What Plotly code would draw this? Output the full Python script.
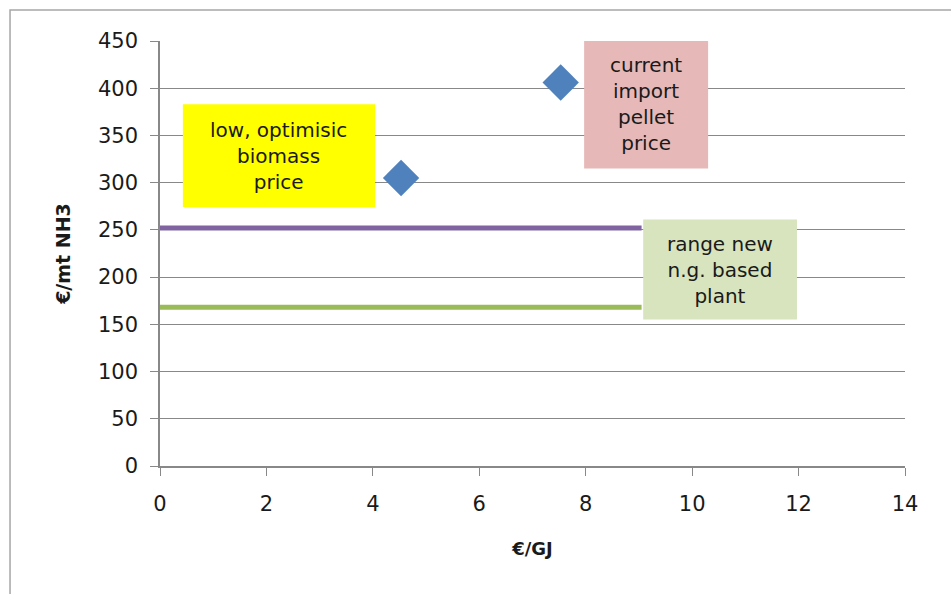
import plotly.graph_objects as go

# Scenario prices of biomass (€/GJ) and resulting NH3 cost (€/mt)
biomass_price = [4.53, 7.53]
nh3_cost = [305, 406]

# Range of ammonia cost for a new natural-gas based plant
ng_range_x = [0, 9.05]
ng_high = [252, 252]
ng_low = [168, 168]

x_ticks = [0, 2, 4, 6, 8, 10, 12, 14]
y_ticks = [0, 50, 100, 150, 200, 250, 300, 350, 400, 450]

FONT = "'DejaVu Sans', sans-serif"

fig = go.Figure()

fig.add_trace(go.Scatter(
    x=ng_range_x, y=ng_high, mode="lines",
    line=dict(color="#8064A2", width=5), showlegend=False))
fig.add_trace(go.Scatter(
    x=ng_range_x, y=ng_low, mode="lines",
    line=dict(color="#9BBB59", width=5), showlegend=False))
fig.add_trace(go.Scatter(
    x=biomass_price, y=nh3_cost, mode="markers",
    marker=dict(symbol="diamond", size=28, color="#4F81BD"),
    showlegend=False))

# Labelled boxes: (x0, x1, y0, y1, fill, text)
boxes = [
    (0.43, 4.04, 274, 383, "#FFFF00", "low, optimisic<br>biomass<br>price"),
    (7.97, 10.30, 315, 451, "#E6B9B8", "current<br>import<br>pellet<br>price"),
    (9.08, 11.97, 155, 261, "#D7E4BD", "range new<br>n.g. based<br>plant"),
]
for x0, x1, y0, y1, fill, text in boxes:
    fig.add_shape(type="rect", xref="x", yref="y", x0=x0, x1=x1, y0=y0, y1=y1,
                  fillcolor=fill, line=dict(width=0), layer="above")
    fig.add_annotation(x=(x0 + x1) / 2, y=(y0 + y1) / 2, xref="x", yref="y",
                       text=text, showarrow=False, align="center",
                       font=dict(family=FONT, size=20, color="#1a1a1a"))

# Outer chart frame
fig.add_shape(type="rect", xref="paper", yref="paper",
              x0=-0.2013, x1=1.2, y0=-0.5, y1=1.0729,
              line=dict(color="#A6A6A6", width=1.5), fillcolor="rgba(0,0,0,0)",
              layer="below")

fig.update_layout(
    width=951, height=594,
    margin=dict(l=160, r=46, t=41, b=128),
    paper_bgcolor="white", plot_bgcolor="white",
    font=dict(family=FONT, size=21, color="#1a1a1a"),
    xaxis=dict(
        range=[0, 14], tickvals=x_ticks, showgrid=False,
        showline=True, linecolor="#888888", linewidth=1.5,
        ticks="outside", ticklen=8, tickcolor="#888888",
        ticklabelstandoff=10, zeroline=False,
        title=dict(text="<b>€/GJ</b>", font=dict(size=18), standoff=27),
    ),
    yaxis=dict(
        range=[0, 450], tickvals=y_ticks, showgrid=True,
        gridcolor="#888888", gridwidth=1.2,
        showline=True, linecolor="#888888", linewidth=1.5,
        ticks="outside", ticklen=8, tickcolor="#888888",
        ticklabelstandoff=8, zeroline=False,
        title=dict(text="<b>€/mt NH3</b>", font=dict(size=19), standoff=22),
    ),
)

fig.write_html("out.html")
